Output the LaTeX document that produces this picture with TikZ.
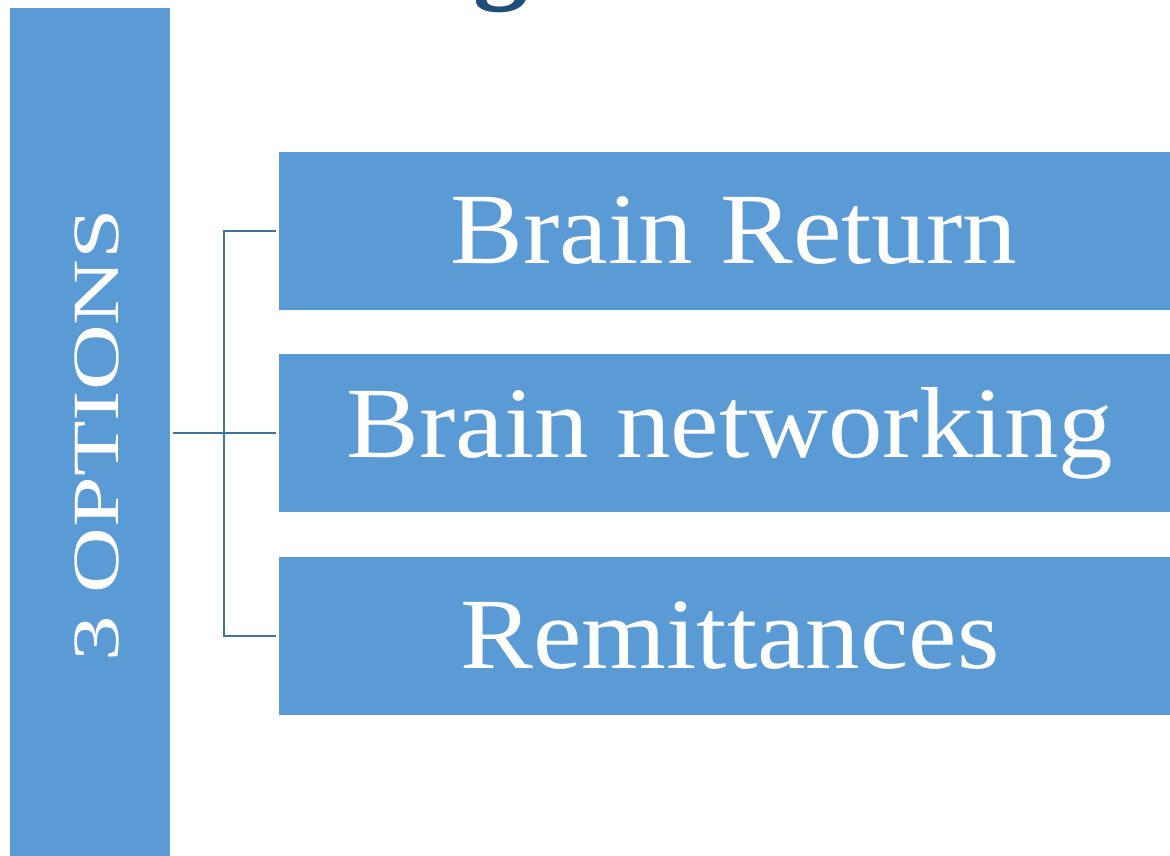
\documentclass[tikz,border=0pt]{standalone}
\usepackage{fontspec}
\setmainfont{Liberation Serif}
\newfontfamily\boxfont[FakeStretch=1.08]{Liberation Serif}
\newfontfamily\barfont[FakeStretch=1.38]{Liberation Serif}
\definecolor{boxblue}{HTML}{5B9BD5}
\definecolor{linkblue}{HTML}{41719C}
\definecolor{titleblue}{HTML}{1F4E79}
\tikzset{
  optbox/.style={fill=boxblue, draw=none, minimum width=891pt, minimum height=158pt, inner sep=0pt, anchor=north west},
  opttext/.style={text=white, font=\boxfont\fontsize{101}{101}\selectfont},
  link/.style={draw=linkblue, line width=2.2pt}
}
\begin{document}
\begin{tikzpicture}[x=1pt,y=-1pt]
\useasboundingbox (0,0) rectangle (1170,855);
\begin{scope}
\clip (0,0) rectangle (1170,855);
\node[text=titleblue, font=\bfseries\fontsize{110}{110}\selectfont, anchor=base] (title) at (501,-12) {g};
\fill[boxblue] (10,8) rectangle (170,860);
\node[optbox] (b1) at (279,152) {};
\node[optbox] (b2) at (279,354) {};
\node[optbox] (b3) at (279,557) {};
\end{scope}
\node[coordinate] (bar) at (173,433) {};
\node[text=white, font=\barfont\fontsize{66}{66}\selectfont, rotate=90] (opt) at (97,435) {3 OPTIONS};
\node[opttext] (t1) at (734,231) {Brain Return};
\node[opttext] (t2) at (730,433) {Brain networking};
\node[opttext] (t3) at (730,636) {Remittances};
\coordinate (j) at (224,433);
\coordinate (e1) at (276,231);
\coordinate (e2) at (276,433);
\coordinate (e3) at (276,636);
\draw[link] (bar) -- (j);
\draw[link] (j) -- (e2);
\draw[link] (e1) -| (j) |- (e3);
\end{tikzpicture}
\end{document}
